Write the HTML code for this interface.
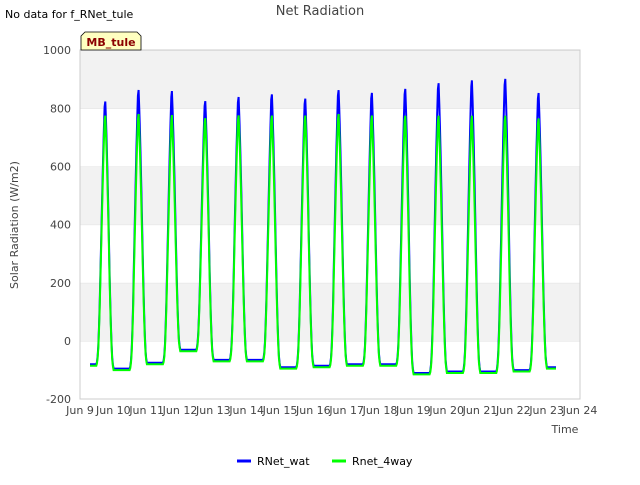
<!DOCTYPE html>
<html><head><meta charset="utf-8"><style>
body{margin:0;background:#fff;font-family:"Liberation Sans","DejaVu Sans",sans-serif}
svg text{font-family:"DejaVu Sans","Liberation Sans",sans-serif}
</style></head><body>
<svg id="chart" width="640" height="480" xmlns="http://www.w3.org/2000/svg">
<rect width="640" height="480" fill="#fff"/>
<g id="bands"></g>
<rect x="80" y="50" width="500" height="349" fill="none" stroke="#ccc"/>
<g id="yticks" font-size="11" fill="#444" text-anchor="end"></g>
<g id="xticks" font-size="11" fill="#444" text-anchor="middle"></g>
<g id="series"></g>
<text x="320" y="15" font-size="13" fill="#444" text-anchor="middle">Net Radiation</text>
<text x="5" y="18" font-size="11" fill="#000">No data for f_RNet_tule</text>
<g>
<path d="M81,50 L81,36 L85,32 L137,32 L141,36 L141,50 Z" fill="#ffffc0" stroke="#000" stroke-width="0.8"/>
<text x="111" y="46" font-size="11" font-weight="bold" fill="#8b0000" text-anchor="middle">MB_tule</text>
</g>
<text x="565" y="433" font-size="11" fill="#444" text-anchor="middle">Time</text>
<text x="18" y="225" font-size="11" fill="#444" text-anchor="middle" transform="rotate(-90 18 225)">Solar Radiation (W/m2)</text>
<g>
<line x1="237" y1="461" x2="251" y2="461" stroke="#0000ff" stroke-width="3"/>
<text x="257" y="465" font-size="11" fill="#000">RNet_wat</text></g>
<g>
<line x1="332" y1="461" x2="346" y2="461" stroke="#00ff00" stroke-width="3"/>
<text x="352" y="465" font-size="11" fill="#000">Rnet_4way</text></g>
</svg>
<script>
const yTicks=[-200,0,200,400,600,800,1000];
const xLabels=["Jun 9","Jun 10","Jun 11","Jun 12","Jun 13","Jun 14","Jun 15","Jun 16","Jun 17","Jun 18","Jun 19","Jun 20","Jun 21","Jun 22","Jun 23","Jun 24"];
const peaksWat=[850,890,885,850,865,875,860,890,880,895,915,925,930,880];
const peaks4way=[800,805,800,790,800,800,800,805,800,800,800,800,800,790];
const nightWat=[-80,-95,-75,-30,-65,-65,-90,-85,-80,-80,-110,-105,-105,-100,-90];
const night4way=[-85,-100,-80,-35,-70,-70,-95,-90,-85,-85,-115,-110,-110,-105,-95];
const shape=[0,0.04,0.18,0.4,0.63,0.84,1,0.86,0.66,0.42,0.2,0.05,0];
const NS="http://www.w3.org/2000/svg";
const X=t=>80+t*500/15, Y=v=>341-v*(349/1200);
const bands=document.getElementById('bands');
for(let i=0;i<6;i++){const r=document.createElementNS(NS,'rect');


const lo=yTicks[i],hi=yTicks[i+1];r.setAttribute('x',80);r.setAttribute('y',Y(hi));r.setAttribute('width',500);r.setAttribute('height',Y(lo)-Y(hi));
r.setAttribute('fill',i%2===1?'#f2f2f2':'#fff');bands.appendChild(r);
const l=document.createElementNS(NS,'line');


l.setAttribute('x1',80);l.setAttribute('x2',580);l.setAttribute('y1',Y(hi));l.setAttribute('y2',Y(hi));l.setAttribute('stroke','#e0e0e0');bands.appendChild(l);}
const yg=document.getElementById('yticks');
yTicks.forEach(v=>{const t=document.createElementNS(NS,'text');


t.setAttribute('x',71);t.setAttribute('y',Y(v)+4);t.textContent=v;yg.appendChild(t);});
const xg=document.getElementById('xticks');
xLabels.forEach((s,i)=>{const t=document.createElementNS(NS,'text');


t.setAttribute('x',X(i));t.setAttribute('y',414);t.textContent=s;xg.appendChild(t);});
function val(t,peaks,nights){const k=Math.round(t-0.75);const dh=(t-(k+0.75))*24;
const n=nights[Math.max(0,Math.min(nights.length-1,t<k+0.75?k:k+1))];
if(k<0||k>=peaks.length||Math.abs(dh)>=6)return n;
const f=dh+6,i=Math.floor(f),fr=f-i;const s=shape[i]*(1-fr)+shape[Math.min(12,i+1)]*fr;
const base=dh<0?nights[k]:nights[k+1];return base+(peaks[k]-base)*s;}
function draw(peaks,nights,color,w,name){let d='';
for(let t=0.3;t<=14.3;t+=1/48){d+=(d?'L':'M')+X(t).toFixed(1)+','+Y(val(t,peaks,nights)).toFixed(1);}
const p=document.createElementNS(NS,'path');


p.setAttribute('d',d);p.setAttribute('fill','none');p.setAttribute('stroke',color);p.setAttribute('stroke-width',w);
document.getElementById('series').appendChild(p);}
draw(peaksWat,nightWat,'#0000ff',2,'series-rnet-wat');
draw(peaks4way,night4way,'#00ff00',2,'series-rnet-4way');
</script>
</body></html>
